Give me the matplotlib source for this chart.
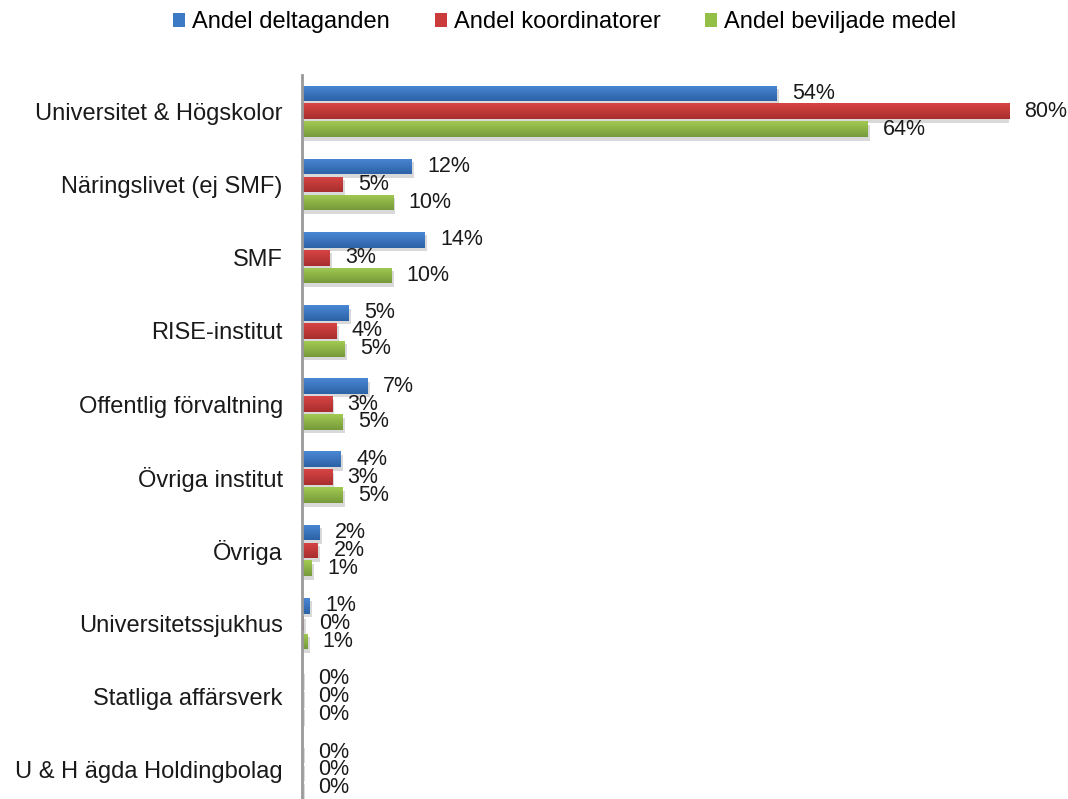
import numpy as np
import matplotlib
matplotlib.use("Agg")
import matplotlib.pyplot as plt
import matplotlib.patheffects as pe
from matplotlib.colors import LinearSegmentedColormap
from matplotlib.patches import Patch

plt.rcParams['font.family'] = ['Liberation Sans', 'DejaVu Sans']

# kategorier, uppifrån och ned
categories = [
    "Universitet & Högskolor",
    "Näringslivet (ej SMF)",
    "SMF",
    "RISE-institut",
    "Offentlig förvaltning",
    "Övriga institut",
    "Övriga",
    "Universitetssjukhus",
    "Statliga affärsverk",
    "U & H ägda Holdingbolag",
]
series_names = ["Andel deltaganden", "Andel koordinatorer", "Andel beviljade medel"]

# andelar i procent
deltaganden = [53.7, 12.4, 13.9, 5.3, 7.4, 4.4, 2.0, 0.9, 0.1, 0.1]
koordinatorer = [80.0, 4.6, 3.1, 3.9, 3.4, 3.4, 1.8, 0.2, 0.05, 0.05]
beviljade = [64.0, 10.3, 10.1, 4.8, 4.6, 4.6, 1.1, 0.6, 0.05, 0.05]

colors = ["#3d7ac6", "#cc3b3b", "#93bf47"]
# ljus -> mörk toning per serie (Office-stil)
grads = [("#4a88d4", "#2c62a6"), ("#d84444", "#a82e2e"), ("#a2cb52", "#76993a")]

fig = plt.figure(figsize=(10.68, 7.99), dpi=100)
ax = fig.add_axes([0.283, -0.0095, 0.662, 0.916])

y = np.arange(len(categories))
bar_h = 0.215
step = 0.245
shadow = [pe.SimplePatchShadow(offset=(1.5, -2.5), alpha=0.2, shadow_rgbFace="#444444"), pe.Normal()]
grad_img = np.linspace(0, 1, 64).reshape(-1, 1)

for i, (vals, col, name) in enumerate(zip([deltaganden, koordinatorer, beviljade], colors, series_names)):
    pos = y + (i - 1) * step
    bars = ax.barh(pos, vals, height=bar_h, color=col, zorder=3)
    cmap = LinearSegmentedColormap.from_list(name, grads[i])
    for b in bars:
        b.set_path_effects(shadow)
        x0, y0 = b.get_x(), b.get_y()
        im = ax.imshow(grad_img, cmap=cmap, aspect="auto", zorder=3.5,
                       extent=[x0, x0 + b.get_width(), y0 + b.get_height(), y0])
        im.set_clip_path(b)
    for p, v in zip(pos, vals):
        ax.annotate(f"{v:.0f}%", xy=(v, p), xytext=(11, 0), textcoords="offset points",
                    ha="left", va="center", fontsize=15.5, color="#1a1a1a")

ax.set_ylim(len(categories) - 0.5, -0.5)
ax.set_xlim(0, 80)
ax.set_yticks(y)
ax.set_yticklabels(categories, fontsize=17, color="#1a1a1a")
ax.tick_params(axis="y", length=0, pad=14)
ax.set_xticks([])
for s in ["top", "right", "bottom"]:
    ax.spines[s].set_visible(False)
ax.spines["left"].set_color("#999999")
ax.spines["left"].set_linewidth(2)
ax.spines["left"].set_zorder(5)

handles = [Patch(facecolor=c, label=n) for c, n in zip(colors, series_names)]
fig.legend(handles=handles, loc="center", bbox_to_anchor=(0.529, 0.972), ncol=3, frameon=False,
           fontsize=17, handlelength=0.5, handleheight=0.5, handletextpad=0.3,
           columnspacing=1.9)

fig.savefig("out.png", dpi=100)
